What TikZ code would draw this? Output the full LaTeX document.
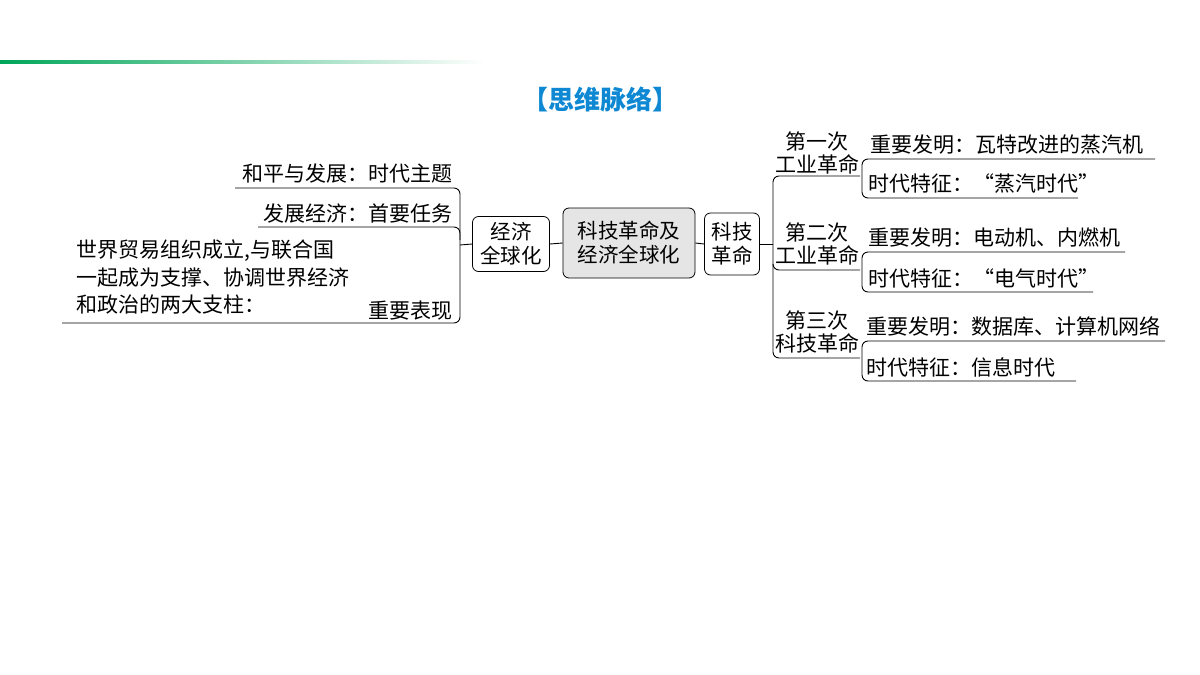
\documentclass[tikz,border=0pt]{standalone}
\usepackage{fontspec}
\setmainfont{Noto Sans CJK SC}
\begin{document}
\begin{tikzpicture}[x=1pt,y=-1pt,
  box/.style={draw,rounded corners=6pt,thick,align=center,inner sep=2pt,font=\fontsize{20.5}{24}\selectfont},
  t/.style={inner sep=0pt,font=\fontsize{21}{23}\selectfont},
  ln/.style={line width=0.9pt,rounded corners=6pt}]
\useasboundingbox (0,0) rectangle (1200,675);
\shade[left color=teal!70!green, right color=white] (0,60.5) rectangle (485,63);
\node[t,font=\fontsize{26}{30}\selectfont\bfseries,text=cyan!70!blue] (title) at (600,99) {【思维脉络】};
\node[box,fill=gray!20,minimum width=132pt,minimum height=70pt] (c) at (629,243) {科技革命及\\经济全球化};
\node[box,minimum width=77pt,minimum height=55pt] (g) at (511,244) {经济\\全球化};
\node[box,minimum width=55pt,minimum height=62pt] (k) at (732,244) {科技\\革命};
\draw[ln] (c.west) -- (g.east);
\draw[ln] (c.east) -- (k.east-|k.west);
% left
\coordinate (lj) at (460,245);
\draw[ln] (g.west) -- (lj);
\draw[ln] (235,188) -- (460,188) -- (460,323) -- (62,323);
\draw[ln] (258,227) -- (460,227) -- (460,240);
\node[t,anchor=south east] (l1) at (453,183) {和平与发展：时代主题};
\node[t,anchor=south east] (l2) at (453,223) {发展经济：首要任务};
\node[t,anchor=north west,align=left,font=\fontsize{21}{27.5}\selectfont] (l3) at (76,240) {世界贸易组织成立,与联合国\\一起成为支撑、协调世界经济\\和政治的两大支柱：};
\node[t,anchor=south east] (l4) at (453,320) {重要表现};
% right
\draw[ln] (k.east) -- (773,244);
\draw[ln] (860,176) -- (773,176) -- (773,358) -- (860,358);
\draw[ln] (773,265) -- (773,270) -- (860,270);
\node[t,anchor=south,align=center] (r1) at (817,174) {第一次\\工业革命};
\node[t,anchor=south,align=center] (r2) at (817,265) {第二次\\工业革命};
\node[t,anchor=south,align=center] (r3) at (817,353) {第三次\\科技革命};
\draw[ln] (1155,159) -- (862,159) -- (862,198) -- (1078,198);
\draw[ln] (1125,252) -- (862,252) -- (862,292) -- (1093,292);
\draw[ln] (1165,341) -- (862,341) -- (862,381) -- (1076,381);
\node[t,anchor=south west] (a1) at (870,155) {重要发明：瓦特改进的蒸汽机};
\node[t,anchor=south west] (a2) at (868,194) {时代特征：“蒸汽时代”};
\node[t,anchor=south west] (b1) at (868,248) {重要发明：电动机、内燃机};
\node[t,anchor=south west] (b2) at (868,288) {时代特征：“电气时代”};
\node[t,anchor=south west] (d1) at (866,337) {重要发明：数据库、计算机网络};
\node[t,anchor=south west] (d2) at (866,377) {时代特征：信息时代};
\end{tikzpicture}
\end{document}
